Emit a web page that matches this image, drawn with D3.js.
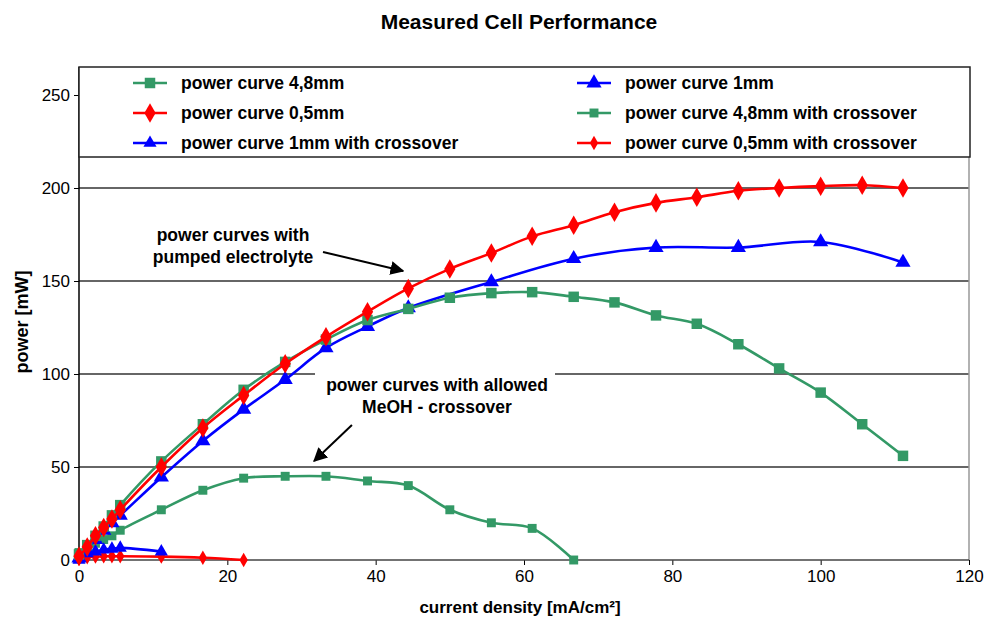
<!DOCTYPE html>
<html>
<head>
<meta charset="utf-8">
<script src="https://d3js.org/d3.v7.min.js"></script>
<style>
  body { margin: 0; background: #fff; }
  svg { font-family: "Liberation Sans", Arial, sans-serif; }
</style>
</head>
<body>
<svg id="chart" width="990" height="618"></svg>
<script>
// current density [mA/cm2] -> power [mW]
var green48 = [[0,3],[1.11,8],[2.22,13],[3.33,18],[4.44,24],[5.56,29.5],[11.1,53],[16.7,73],[22.2,91.5],[27.8,106.5],[33.3,118.5],[38.9,129],[44.4,135],[50,141],[55.6,143.5],[61.1,144],[66.7,141.5],[72.2,138.5],[77.8,131.5],[83.3,127],[88.9,116],[94.4,103],[100,90],[105.6,73],[111.1,56]];
var red05 = [[0,2],[1.11,7],[2.22,13],[3.33,17.5],[4.44,22],[5.56,27],[11.1,50],[16.7,71],[22.2,88.5],[27.8,105.5],[33.3,120],[38.9,133.5],[44.4,146],[50,156.5],[55.6,165],[61.1,174],[66.7,180],[72.2,187],[77.8,192],[83.3,195],[88.9,198.5],[94.4,200],[100,201],[105.6,201.5],[111.1,200]];
var blue1x = [[0,0],[1.11,3.5],[2.22,4.5],[3.33,5.5],[4.44,6],[5.56,6.5],[11.1,4.5]];
var blue1 = [[0,1],[1.11,6],[2.22,11],[3.33,16],[4.44,20],[5.56,24],[11.1,44.5],[16.7,64],[22.2,81],[27.8,97],[33.3,114],[38.9,125.5],[44.4,135.5],[55.6,149.5],[66.7,162],[77.8,168],[88.9,168],[100,171],[111.1,160]];
var green48x = [[0,4],[1.11,7],[2.22,9],[3.33,11],[4.44,13],[5.56,16],[11.1,27],[16.7,37.5],[22.2,44],[27.8,45],[33.3,45],[38.9,42.5],[44.4,40],[50,27],[55.6,20],[61.1,17],[66.7,0]];
var red05x = [[0,0.5],[1.11,1.5],[2.22,1.8],[3.33,2],[4.44,2],[5.56,2],[11.1,1.8],[16.7,1.2],[22.2,0]];

var xTicks = [0, 20, 40, 60, 80, 100, 120];
var yTicks = [0, 50, 100, 150, 200, 250];

var series = [
  {name: "power curve 4,8mm", data: green48, color: "#339966", shape: "square", size: 110, col: 0, row: 0},
  {name: "power curve 0,5mm", data: red05, color: "#ff0000", shape: "diamond", size: 110, col: 0, row: 1},
  {name: "power curve 1mm with crossover", data: blue1x, color: "#0000ff", shape: "triangle", size: 75, col: 0, row: 2},
  {name: "power curve 1mm", data: blue1, color: "#0000ff", shape: "triangle", size: 100, col: 1, row: 0},
  {name: "power curve 4,8mm with crossover", data: green48x, color: "#339966", shape: "square", size: 80, col: 1, row: 1},
  {name: "power curve 0,5mm with crossover", data: red05x, color: "#ff0000", shape: "diamond", size: 60, col: 1, row: 2}
];

var svg = d3.select("#chart");
var plotLeft = 79, plotRight = 969, plotBottom = 560, plotTop = 67;

var x = d3.scaleLinear().domain([0, 120]).range([plotLeft, plotRight]);
var y = d3.scaleLinear().domain([0, 250]).range([plotBottom, 95]);

var shapes = {square: d3.symbolSquare, diamond: d3.symbolDiamond, triangle: d3.symbolTriangle};

// title and axis titles
svg.append("text").attr("x", 519).attr("y", 29).attr("text-anchor", "middle")
  .attr("font-size", 21).attr("font-weight", "bold").text("Measured Cell Performance");
svg.append("text").attr("transform", "translate(28,322) rotate(-90)")
  .attr("text-anchor", "middle").attr("font-size", 18).attr("font-weight", "bold").text("power [mW]");
svg.append("text").attr("x", 520).attr("y", 613).attr("text-anchor", "middle")
  .attr("font-size", 17).attr("font-weight", "bold").text("current density [mA/cm²]");

// gridlines
svg.append("g").selectAll("line").data(yTicks.filter(function(d) { return d > 0 && d < 250; }))
  .enter().append("line")
  .attr("x1", plotLeft).attr("x2", plotRight)
  .attr("y1", function(d) { return y(d); }).attr("y2", function(d) { return y(d); })
  .attr("stroke", "#333").attr("stroke-width", 1.3);

// right border
svg.append("line").attr("x1", plotRight).attr("x2", plotRight).attr("y1", plotTop).attr("y2", plotBottom)
  .attr("stroke", "#999").attr("stroke-width", 1.5);

// axes
var yAxis = d3.axisLeft(y).tickValues(yTicks).tickSize(5).tickPadding(4);
var gy = svg.append("g").attr("transform", "translate(" + plotLeft + ",0)").call(yAxis);
gy.select(".domain").remove();
gy.selectAll("text").attr("font-size", 17).attr("font-family", "Liberation Sans, Arial, sans-serif");
svg.append("line").attr("x1", plotLeft).attr("x2", plotLeft).attr("y1", plotTop).attr("y2", plotBottom)
  .attr("stroke", "#000").attr("stroke-width", 1.5);

var xAxis = d3.axisBottom(x).tickValues(xTicks).tickSize(5).tickPadding(5);
var gx = svg.append("g").attr("transform", "translate(0," + plotBottom + ")").call(xAxis);
gx.select(".domain").remove();
gx.selectAll("text").attr("font-size", 17).attr("font-family", "Liberation Sans, Arial, sans-serif");
svg.append("line").attr("x1", plotLeft).attr("x2", plotRight).attr("y1", plotBottom).attr("y2", plotBottom)
  .attr("stroke", "#444").attr("stroke-width", 1.5);

// annotations
var noteA = ["power curves with", "pumped electrolyte"];
var noteB = ["power curves with allowed", "MeOH - crossover"];

svg.append("rect").attr("x", 315).attr("y", y(100) - 10).attr("width", 240).attr("height", 20).attr("fill", "#fff");

svg.append("g").selectAll("text").data(noteA).enter().append("text")
  .attr("x", 233).attr("y", function(d, i) { return 241 + i * 22; })
  .attr("text-anchor", "middle").attr("font-size", 17.5).attr("font-weight", "bold").text(function(d) { return d; });
svg.append("g").selectAll("text").data(noteB).enter().append("text")
  .attr("x", 437).attr("y", function(d, i) { return 391 + i * 22; })
  .attr("text-anchor", "middle").attr("font-size", 17.5).attr("font-weight", "bold").text(function(d) { return d; });

svg.append("defs").append("marker").attr("id", "arrow")
  .attr("viewBox", "0 0 10 10").attr("refX", 9).attr("refY", 5)
  .attr("markerWidth", 7).attr("markerHeight", 7).attr("orient", "auto")
  .append("path").attr("d", "M0,0 L10,5 L0,10 z").attr("fill", "#000");

var arrows = [[[32.9, 165.6], [43.7, 155.4]], [[36.8, 72.6], [31.7, 53.2]]];
svg.append("g").selectAll("line").data(arrows).enter().append("line")
  .attr("x1", function(d) { return x(d[0][0]); }).attr("y1", function(d) { return y(d[0][1]); })
  .attr("x2", function(d) { return x(d[1][0]); }).attr("y2", function(d) { return y(d[1][1]); })
  .attr("stroke", "#000").attr("stroke-width", 2).attr("marker-end", "url(#arrow)");

// series
var line = d3.line().x(function(d) { return x(d[0]); }).y(function(d) { return y(d[1]); })
  .curve(d3.curveCatmullRom.alpha(0.5));

var drawOrder = [4, 5, 2, 3, 0, 1];
drawOrder.forEach(function(i) {
  var s = series[i];
  var g = svg.append("g");
  g.append("path").attr("d", line(s.data)).attr("fill", "none")
    .attr("stroke", s.color).attr("stroke-width", 2.6);
  g.selectAll("path.m").data(s.data).enter().append("path").attr("class", "m")
    .attr("transform", function(d) { return "translate(" + x(d[0]) + "," + y(d[1]) + ")"; })
    .attr("d", d3.symbol().type(shapes[s.shape]).size(s.size))
    .attr("fill", s.color);
});

// legend
var legend = svg.append("g");
legend.append("rect").attr("x", plotLeft).attr("y", plotTop).attr("width", plotRight - plotLeft + 1).attr("height", 90)
  .attr("fill", "#fff").attr("stroke", "#222").attr("stroke-width", 1.5);
var colX = [150, 594];
series.forEach(function(s) {
  var cx = colX[s.col], cy = 83 + s.row * 30;
  legend.append("line").attr("x1", cx - 17).attr("x2", cx + 17).attr("y1", cy).attr("y2", cy)
    .attr("stroke", s.color).attr("stroke-width", 2.6);
  legend.append("path").attr("transform", "translate(" + cx + "," + cy + ")")
    .attr("d", d3.symbol().type(shapes[s.shape]).size(s.size)).attr("fill", s.color);
  legend.append("text").attr("x", cx + 31).attr("y", cy + 6).attr("font-size", 17.5)
    .attr("font-weight", "bold").text(s.name);
});
</script>
</body>
</html>
